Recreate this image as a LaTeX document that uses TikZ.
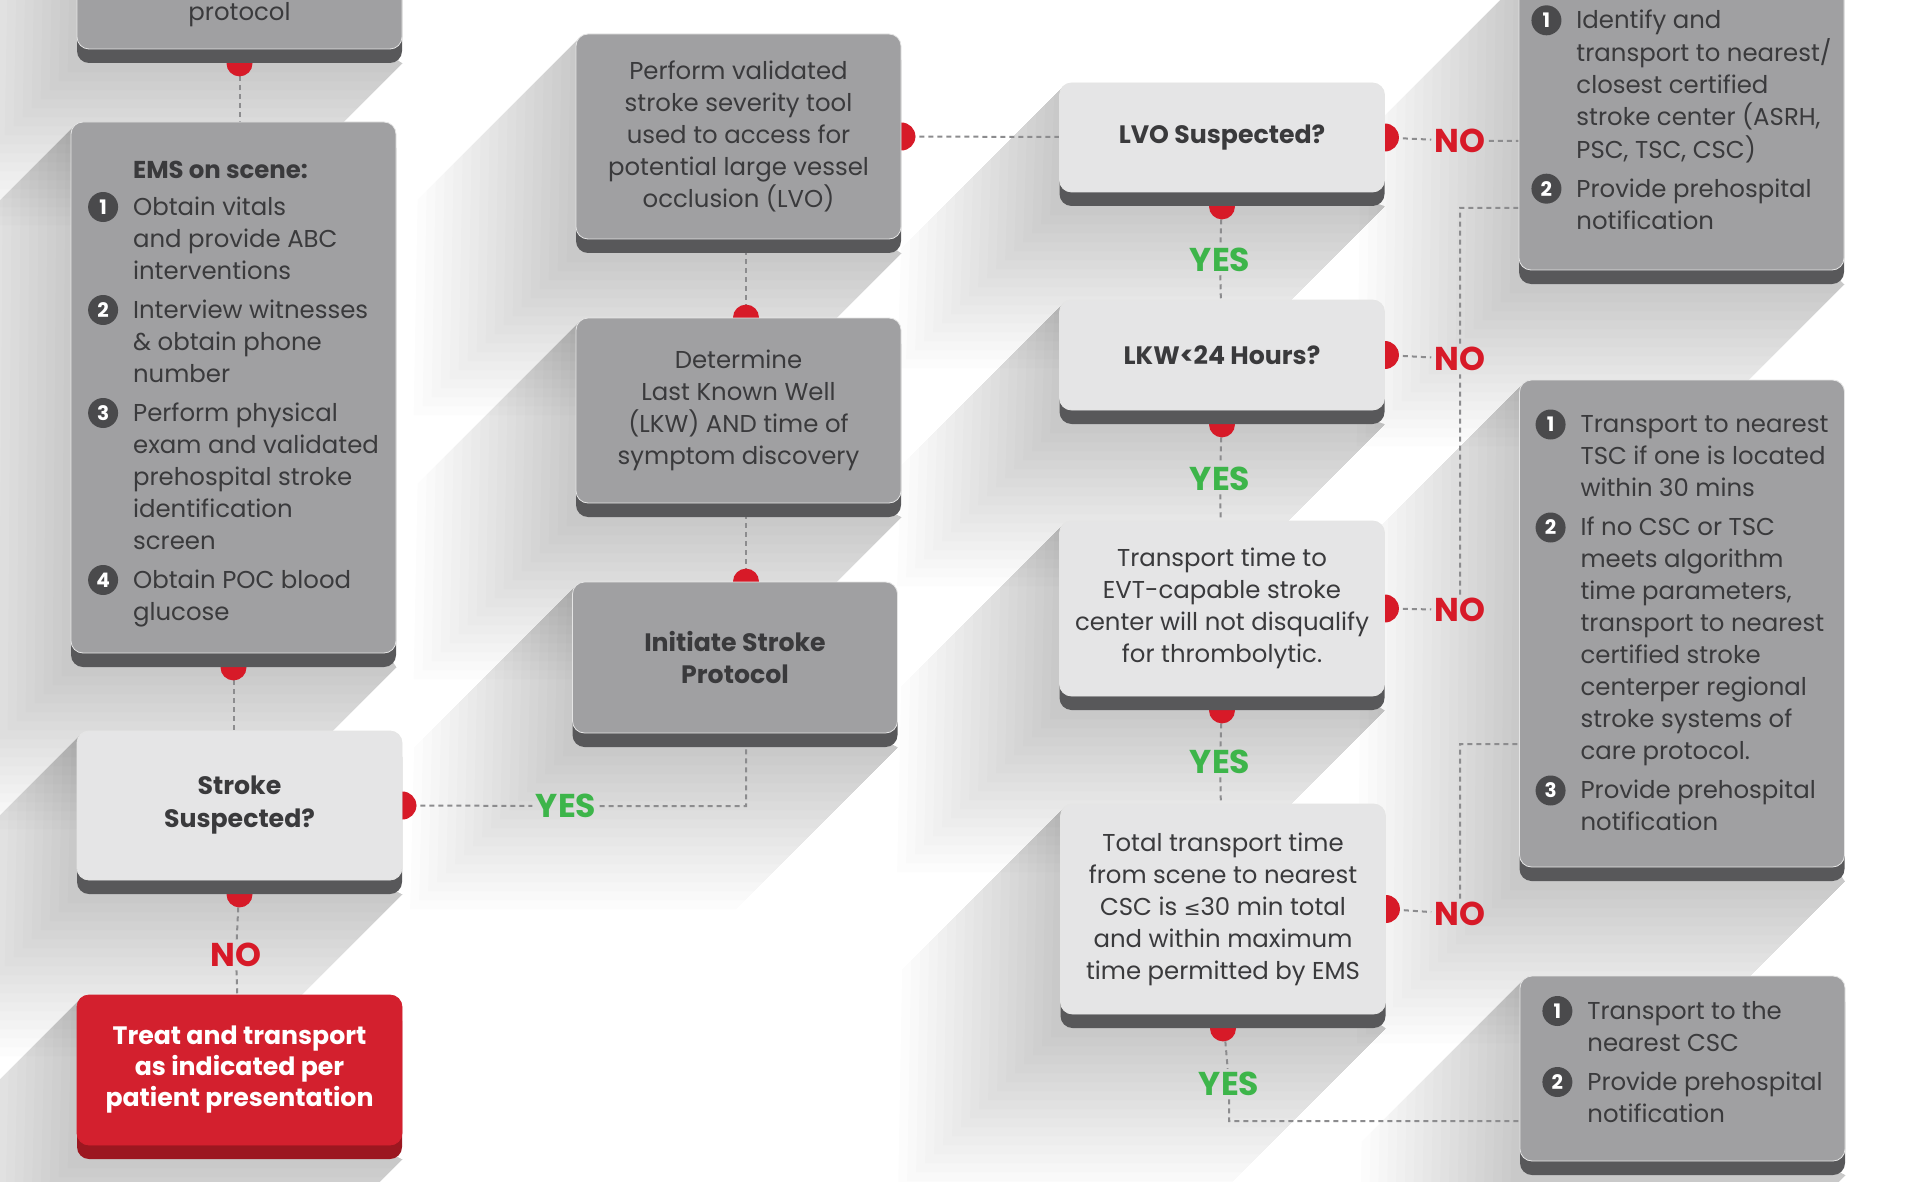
\documentclass[tikz,border=0pt]{standalone}
\usepackage{fontspec}
\setmainfont{Poppins}
\newfontfamily\symfont{DejaVu Sans}
\usepackage{tikz}
\usetikzlibrary{shadows,backgrounds,calc}

\definecolor{askface}{HTML}{E5E5E6}
\definecolor{doface}{HTML}{A0A0A2}
\definecolor{slabgrey}{HTML}{58585A}
\definecolor{inkgrey}{HTML}{3A3A3C}
\definecolor{alertred}{HTML}{D3202E}
\definecolor{alertdark}{HTML}{9C1720}
\definecolor{tabred}{HTML}{D71A28}
\definecolor{yesgreen}{HTML}{3DB54A}
\definecolor{linegrey}{HTML}{8C8C8E}
\definecolor{numgrey}{HTML}{4A4A4C}

% numbered bullet in the lists
\newcommand{\stepno}[1]{\tikz[baseline=-4.2pt]\node[circle, fill=numgrey, text=white, inner sep=0pt, minimum size=15pt, font=\bfseries\fontsize{10}{10}\selectfont]{#1};}

\begin{document}
\begin{tikzpicture}[x=0.5pt, y=-0.5pt]

\tikzset{
  slab/.style={rectangle, rounded corners=6pt, minimum width=162.5pt, inner sep=0pt,
    align=center, text=inkgrey, draw=black!10, line width=0.4pt,
    drop shadow={shadow xshift=0pt, shadow yshift=-7pt, opacity=1, fill=#1}},
  slab/.default=slabgrey,
  askbox/.style={slab, fill=askface, font=\bfseries\fontsize{12.6}{16.5}\selectfont},
  dobox/.style={slab, fill=doface, font=\fontsize{12.2}{16}\selectfont},
  alertbox/.style={slab=alertdark, fill=alertred, draw=alertred, text=white,
    font=\bfseries\fontsize{12.6}{15.5}\selectfont},
  steptext/.style={inner sep=0pt, text=inkgrey, font=\fontsize{12.2}{16}\selectfont},
  link/.style={draw=linegrey, line width=1pt, dash pattern=on 2.5pt off 2pt},
  yeslabel/.style={text=yesgreen, font=\bfseries\fontsize{16.5}{16.5}\selectfont, inner sep=1.5pt},
  nolabel/.style={yeslabel, text=tabred},
  longshade/.style={fill=black, opacity=0.011}
}

\useasboundingbox (0,0) rectangle (1921,1182);

% left column
\node[dobox, minimum height=99pt] (proto) at (239.5,-50) {};
\node[steptext] (protoText) at (239.5,15) {protocol};
\node[dobox, minimum height=265.5pt] (ems) at (233.5,387.5) {};
\node[steptext] (emsText) at (233.5,393) {\begin{tabular}{@{}c@{\hspace{7.5pt}}l@{}}
  & \textbf{EMS on scene:}\\[2pt]
  \stepno{1} & Obtain vitals\\ & and provide ABC\\ & interventions\\[3pt]
  \stepno{2} & Interview witnesses\\ & \& obtain phone\\ & number\\[3pt]
  \stepno{3} & Perform physical\\ & exam and validated\\ & prehospital stroke\\ & identification\\ & screen\\[3pt]
  \stepno{4} & Obtain POC blood\\ & glucose
\end{tabular}};
\node[askbox, minimum height=74.5pt] (stroke) at (239.5,805.5) {Stroke\\Suspected?};
\node[alertbox, minimum height=75pt] (treat) at (239.5,1070) {Treat and transport\\as indicated per\\patient presentation};

% middle column
\node[dobox, minimum height=102.5pt] (perform) at (738.5,136.5) {Perform validated\\stroke severity tool\\used to access for\\potential large vessel\\occlusion (LVO)};
\node[dobox, minimum height=92.5pt] (determine) at (738.5,410.5) {Determine\\Last Known Well\\(LKW) AND time of\\symptom discovery};
\node[dobox, minimum height=75.5pt, font=\bfseries\fontsize{12.6}{16}\selectfont] (initiate) at (735,657.5) {Initiate Stroke\\Protocol};

% questions
\node[askbox, minimum height=54.5pt] (lvo) at (1222,137.5) {LVO Suspected?};
\node[askbox, minimum height=55pt] (lkw) at (1222,355) {LKW<24 Hours?};
\node[askbox, minimum height=87.5pt, font=\fontsize{12.2}{16}\selectfont] (evt) at (1222,608.5) {Transport time to\\EVT-capable stroke\\center will not disqualify\\for thrombolytic.};
\node[askbox, minimum height=105pt, font=\fontsize{12.2}{16}\selectfont] (total) at (1223,909) {Total transport time\\from scene to nearest\\CSC is {\symfont\fontsize{10}{16}\selectfont ≤}30 min total\\and within maximum\\time permitted by EMS};

% destinations
\node[dobox, minimum height=148pt] (careA) at (1681.5,122) {};
\node[steptext] (careAText) at (1681.5,122) {\begin{tabular}{@{}c@{\hspace{7.5pt}}l@{}}
  \stepno{1} & Identify and\\ & transport to nearest/\\ & closest certified\\ & stroke center (ASRH,\\ & PSC, TSC, CSC)\\[3pt]
  \stepno{2} & Provide prehospital\\ & notification
\end{tabular}};
\node[dobox, minimum height=243.5pt] (careB) at (1682,623.5) {};
\node[steptext] (careBText) at (1682,625) {\begin{tabular}{@{}c@{\hspace{7.5pt}}l@{}}
  \stepno{1} & Transport to nearest\\ & TSC if one is located\\ & within 30 mins\\[3pt]
  \stepno{2} & If no CSC or TSC\\ & meets algorithm\\ & time parameters,\\ & transport to nearest\\ & certified stroke\\ & centerper regional\\ & stroke systems of\\ & care protocol.\\[3pt]
  \stepno{3} & Provide prehospital\\ & notification
\end{tabular}};
\node[dobox, minimum height=92.5pt] (careC) at (1682.5,1068.5) {};
\node[steptext] (careCText) at (1682.5,1064) {\begin{tabular}{@{}c@{\hspace{7.5pt}}l@{}}
  \stepno{1} & Transport to the\\ & nearest CSC\\[3pt]
  \stepno{2} & Provide prehospital\\ & notification
\end{tabular}};

% answers
\node[yeslabel] (yesS) at (566,806) {YES};
\node[nolabel] (noS) at (236,955) {NO};
\node[nolabel] (noA) at (1460,141) {NO};
\node[yeslabel] (yesA) at (1220,260) {YES};
\node[nolabel] (noB) at (1460,359) {NO};
\node[yeslabel] (yesB) at (1220,479) {YES};
\node[nolabel] (noC) at (1460,610) {NO};
\node[yeslabel] (yesC) at (1220,762) {YES};
\node[nolabel] (noD) at (1460,914) {NO};
\node[yeslabel] (yesD) at (1229,1084) {YES};

\coordinate (midcol) at (746,700);
\coordinate (bendA) at (1460,208);
\coordinate (bendB) at (1460,744);
\coordinate (bendC) at (1229,1121);

\begin{scope}[on background layer]
\fill[white] (0,0) rectangle (1921,1182);
% long soft shadows towards the lower left
\foreach \n in {proto,ems,stroke,treat,perform,determine,initiate,lvo,lkw,evt,total,careA,careB,careC}
  \foreach \k in {1,...,18}
    \fill[longshade] ([xshift=2pt,yshift=-2pt]\n.north west) -- ++(-9*\k,9*\k)
      -- ($(\n.south west)+(-9*\k,14+9*\k)$) -- ($(\n.south east)+(-9*\k,14+9*\k)$)
      -- ([yshift=-7pt]\n.south east) -- cycle;

\draw[link] (proto.south) -- (proto.south |- ems.north);
\draw[link] (ems.south) -- (ems.south |- stroke.north);
\draw[link] (stroke.east) -- (yesS) -- (yesS -| midcol) -- (midcol |- initiate.south);
\draw[link] (stroke.south) -- (noS) -- (treat);
\draw[link] (midcol |- initiate.north) -- (midcol |- determine.south);
\draw[link] (midcol |- determine.north) -- (midcol |- perform.south);
\draw[link] (perform.east) -- (lvo);
\draw[link] (lvo.east) -- (noA) -- (noA -| careA.west);
\draw[link] (lvo.south) -- (yesA) -- (lkw);
\draw[link] (lkw.east) -- (noB);
\draw[link] (lkw.south) -- (yesB) -- (evt);
\draw[link] (evt.east) -- (noC) -- (noB) -- (bendA) -- (bendA -| careA.west);
\draw[link] (evt.south) -- (yesC) -- (total);
\draw[link] (total.east) -- (noD) -- (bendB) -- (bendB -| careB.west);
\draw[link] (total.south) -- (yesD) -- (bendC) -- (bendC -| careC.west);

% red tabs, half hidden behind the boxes
\foreach \n in {proto,ems,stroke,lvo,lkw,evt,total}
  \fill[tabred] ([yshift=-7pt]\n.south) circle (6.5pt);
\foreach \n in {stroke,perform,lvo,lkw,evt,total}
  \fill[tabred] (\n.east) circle (7pt);
\fill[tabred] (midcol |- determine.north) circle (6.5pt);
\fill[tabred] (midcol |- initiate.north) circle (6.5pt);
\end{scope}

\end{tikzpicture}
\end{document}
